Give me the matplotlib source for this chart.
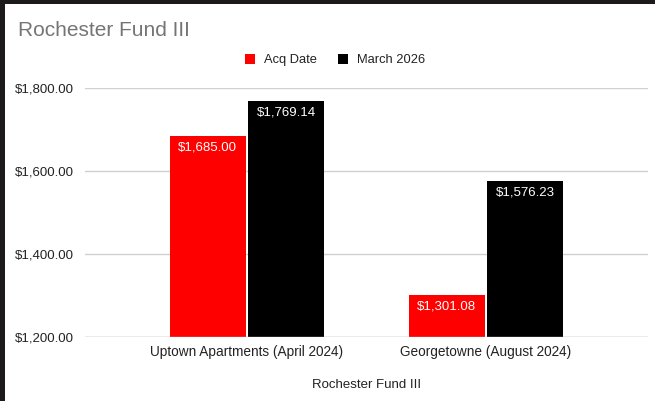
import matplotlib
matplotlib.use("Agg")
import matplotlib.pyplot as plt
from matplotlib.patches import Rectangle

plt.rcParams['font.family'] = ['Liberation Sans', 'DejaVu Sans']

properties = ["Uptown Apartments (April 2024)", "Georgetowne (August 2024)"]
series_names = ["Acq Date", "March 2026"]
acq_values = [1685.00, 1301.08]
march_values = [1769.14, 1576.23]
series_colors = ["#ff0000", "#000000"]
y_ticks = [1200, 1400, 1600, 1800]

fig = plt.figure(figsize=(6.55, 4.01), dpi=100)
fig.patch.set_facecolor("white")

# dark frame strips along the top and left edges
fig.patches.append(Rectangle((0, 1 - 4 / 401), 1, 4 / 401, transform=fig.transFigure,
                             facecolor="#1c1a1a", edgecolor="none", zorder=10))
fig.patches.append(Rectangle((0, 0), 5 / 655, 1, transform=fig.transFigure,
                             facecolor="#1c1a1a", edgecolor="none", zorder=10))

ax = fig.add_axes([85 / 655, 64 / 401, (648 - 85) / 655, (337 - 88) / 401])
ax.set_facecolor("white")

x = list(range(len(properties)))
w = 0.318
off = 0.165
bars_a = ax.bar([i - off for i in x], acq_values, width=w,
                color=series_colors[0], zorder=3)
bars_m = ax.bar([i + off for i in x], march_values, width=w,
                color=series_colors[1], zorder=3)

ax.set_ylim(1200, 1800)
ax.set_xlim(-0.678, 1.678)
ax.set_yticks(y_ticks)
ax.set_yticklabels([f"${v:,.2f}" for v in y_ticks], fontsize=9.5, color="#222222")
ax.set_xticks(x)
ax.set_xticklabels(properties, fontsize=9.8, color="#222222")
ax.tick_params(axis="both", length=0)
ax.tick_params(axis="y", pad=8)
ax.tick_params(axis="x", pad=6)
ax.grid(axis="y", color="#d0d0d0", linewidth=1, zorder=0)
for s in ax.spines.values():
    s.set_visible(False)
ax.axhline(1200, color="#bdbdbd", linewidth=1, zorder=4)

# value labels just inside the top of each bar
for bars, vals in ((bars_a, acq_values), (bars_m, march_values)):
    for b, v in zip(bars, vals):
        ax.annotate(f"${v:,.2f}", (b.get_x() + b.get_width() / 2, v),
                    xytext=(0, -4), textcoords="offset points",
                    ha="center", va="top", fontsize=9.5, color="white", zorder=5)

ax.set_xlabel("Rochester Fund III", fontsize=9.5, color="#222222", labelpad=14)

fig.text(18 / 655, 1 - 30 / 401, "Rochester Fund III", fontsize=15,
         color="#757575", va="center", ha="left")

handles = [Rectangle((0, 0), 1, 1, facecolor=c) for c in series_colors]
fig.legend(handles, series_names, loc="center", bbox_to_anchor=(335 / 655, 1 - 60 / 401),
           ncol=2, frameon=False, fontsize=9.3, handlelength=0.8, handleheight=0.8,
           handletextpad=0.7, columnspacing=1.6, labelcolor="#222222")

fig.savefig("out.png", dpi=100, facecolor="white")
